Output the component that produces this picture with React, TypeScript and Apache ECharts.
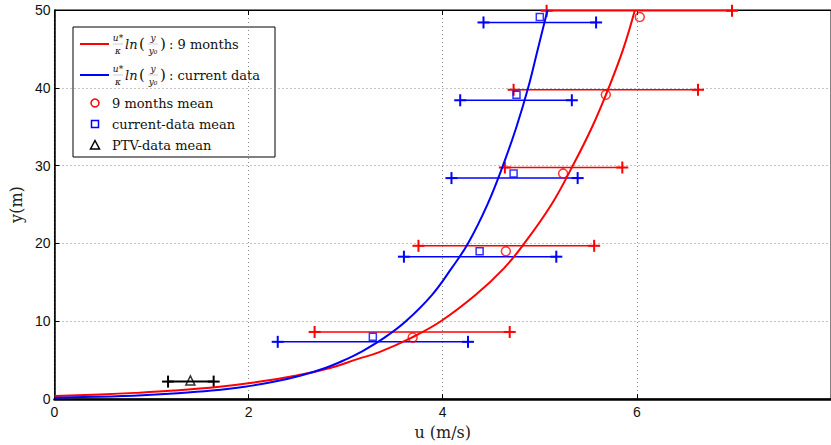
import React, { useEffect, useRef } from "react";
import * as echarts from "echarts";

// Fitted log-law curves: u (m/s) against y (m)
const redCurveU = [0, 0.47, 0.83, 1.23, 1.7, 2.12, 2.48, 2.84, 3.12, 3.34, 3.68, 3.98, 4.34, 4.63, 4.84, 5.12, 5.34, 5.54, 5.71, 5.86, 5.98];
const redCurveY = [0.41, 0.6, 0.8, 1.1, 1.6, 2.25, 3, 4, 5.14, 6, 7.9, 10, 13.4, 16.8, 20, 25, 30, 35, 40, 45, 50];
const blueCurveU = [0, 0.44, 0.91, 1.27, 1.62, 1.96, 2.27, 2.53, 2.79, 3.01, 3.15, 3.4, 3.62, 3.89, 4.09, 4.26, 4.46, 4.62, 4.76, 4.88, 4.98, 5.08];
const blueCurveY = [0.18, 0.3, 0.5, 0.75, 1.1, 1.6, 2.25, 3, 4, 5.14, 6, 7.9, 10, 13.4, 16.8, 20, 25, 30, 35, 40, 45, 50];

// 9 months means and spread
const redMeanU = [3.69, 4.65, 5.24, 5.68, 6.03];
const redMeanY = [7.9, 19.0, 29.0, 39.1, 49.1];
const redBarY = [8.63, 19.7, 29.76, 39.75, 49.9];
const redBarLow = [2.68, 3.75, 4.64, 4.73, 5.07];
const redBarHigh = [4.69, 5.56, 5.85, 6.63, 6.98];

// current-data means and spread
const blueMeanU = [3.28, 4.38, 4.73, 4.76, 5.0];
const blueMeanY = [8.0, 19.0, 29.0, 39.1, 49.1];
const blueBarY = [7.36, 18.3, 28.4, 38.4, 48.4];
const blueBarLow = [2.3, 3.6, 4.09, 4.18, 4.42];
const blueBarHigh = [4.26, 5.17, 5.39, 5.33, 5.58];

// PTV-data mean and spread
const ptvMeanU = [1.4];
const ptvMeanY = [2.4];
const ptvBarY = [2.25];
const ptvBarLow = [1.17];
const ptvBarHigh = [1.64];

const xTicks = [0, 2, 4, 6, 8];
const yTicks = [0, 10, 20, 30, 40, 50];

const RED = "#ff0000";
const BLUE = "#0000ff";
const BLACK = "#000000";
const SERIF = "'DejaVu Serif', 'Liberation Serif', serif";
const SANS = "'Liberation Sans', Arial, sans-serif";

const zip = (a: number[], b: number[]) => a.map((v, i) => [v, b[i]]);

function errorBars(name: string, lo: number[], hi: number[], ys: number[], color: string, lw: number) {
  return {
    type: "custom",
    name,
    clip: false,
    z: 2,
    data: lo.map((l, i) => [l, hi[i], ys[i]]),
    encode: { x: [0, 1], y: 2 },
    renderItem: (params: any, api: any) => {
      const a = api.coord([api.value(0), api.value(2)]);
      const b = api.coord([api.value(1), api.value(2)]);
      const s = 6;
      const st = { stroke: color, lineWidth: 2 };
      return {
        type: "group",
        children: [
          { type: "line", shape: { x1: a[0], y1: a[1], x2: b[0], y2: b[1] }, style: { stroke: color, lineWidth: lw } },
          { type: "line", shape: { x1: a[0] - s, y1: a[1], x2: a[0] + s, y2: a[1] }, style: st },
          { type: "line", shape: { x1: a[0], y1: a[1] - s, x2: a[0], y2: a[1] + s }, style: st },
          { type: "line", shape: { x1: b[0] - s, y1: b[1], x2: b[0] + s, y2: b[1] }, style: st },
          { type: "line", shape: { x1: b[0], y1: b[1] - s, x2: b[0], y2: b[1] + s }, style: st },
        ],
      };
    },
  };
}

function txt(x: number, y: number, text: string, size: number, italic = false, align = "left") {
  return {
    type: "text",
    x,
    y,
    style: {
      text,
      fontFamily: SERIF,
      fontSize: size,
      fontStyle: italic ? "italic" : "normal",
      fill: "#111",
      textAlign: align,
      textVerticalAlign: "middle",
    },
  };
}

function formulaRow(y: number, color: string, label: string) {
  return [
    { type: "line", shape: { x1: 80, y1: y, x2: 109, y2: y }, style: { stroke: color, lineWidth: 2 } },
    txt(118, y - 6, "u*", 9, true, "center"),
    { type: "line", shape: { x1: 113, y1: y, x2: 123, y2: y }, style: { stroke: "#999", lineWidth: 0.5 } },
    txt(118, y + 7, "κ", 9, true, "center"),
    txt(125, y, "ln", 13, true),
    txt(139, y, "(", 15),
    txt(153, y - 6, "y", 9, true, "center"),
    { type: "line", shape: { x1: 148, y1: y, x2: 158, y2: y }, style: { stroke: "#999", lineWidth: 0.5 } },
    txt(153, y + 7, "y₀", 9, true, "center"),
    txt(160, y, ")", 15),
    txt(169, y, label, 13),
  ];
}

export default function App() {
  const ref = useRef<HTMLDivElement>(null);
  useEffect(() => {
    if (!ref.current) return;
    const chart = echarts.init(ref.current, undefined, { renderer: "svg" });
    const axisCommon = {
      type: "value",
      axisTick: { show: true, inside: true, length: 5, lineStyle: { color: BLACK } },
    };
    chart.setOption({
      animation: false,
      backgroundColor: "#ffffff",
      grid: { left: 50, right: -1, top: 10, bottom: 43, show: true, borderColor: BLACK, borderWidth: 1 },
      xAxis: [
        {
          ...axisCommon,
          min: xTicks[0],
          max: xTicks[xTicks.length - 1],
          interval: 2,
          name: "u (m/s)",
          nameLocation: "middle",
          nameGap: 23,
          nameTextStyle: { fontFamily: SERIF, fontSize: 16, color: "#222" },
          axisLine: { show: true, lineStyle: { color: BLACK, width: 2.5 } },
          axisLabel: {
            fontFamily: SANS,
            fontSize: 14,
            color: "#111",
            margin: 6,
            showMaxLabel: false,
          },
          splitLine: { show: true, lineStyle: { color: "#888", type: [1, 3], width: 1 } },
        },
        {
          ...axisCommon,
          position: "top",
          min: xTicks[0],
          max: xTicks[xTicks.length - 1],
          interval: 2,
          axisLine: { show: true, lineStyle: { color: BLACK, width: 1 } },
          axisLabel: { show: false },
          splitLine: { show: false },
        },
      ],
      yAxis: [
        {
          ...axisCommon,
          min: yTicks[0],
          max: yTicks[yTicks.length - 1],
          interval: 10,
          name: "y(m)",
          nameLocation: "middle",
          nameGap: 24,
          nameRotate: 90,
          nameTextStyle: { fontFamily: SERIF, fontSize: 16, color: "#222" },
          axisLine: { show: true, lineStyle: { color: BLACK, width: 1.5 } },
          axisLabel: { fontFamily: SANS, fontSize: 14, color: "#111", margin: 4 },
          splitLine: { show: true, lineStyle: { color: "#888", type: [1, 3], width: 1 } },
        },
      ],
      series: [
        errorBars("9 months spread", redBarLow, redBarHigh, redBarY, RED, 1.5),
        errorBars("current-data spread", blueBarLow, blueBarHigh, blueBarY, BLUE, 1.5),
        errorBars("PTV-data spread", ptvBarLow, ptvBarHigh, ptvBarY, BLACK, 2),
        {
          type: "line",
          name: "9 months log law",
          data: zip(redCurveU, redCurveY),
          smooth: 0.4,
          showSymbol: false,
          lineStyle: { color: RED, width: 2 },
          z: 3,
        },
        {
          type: "line",
          name: "current data log law",
          data: zip(blueCurveU, blueCurveY),
          smooth: 0.4,
          showSymbol: false,
          lineStyle: { color: BLUE, width: 2 },
          z: 3,
        },
        {
          type: "scatter",
          name: "9 months mean",
          data: zip(redMeanU, redMeanY),
          symbol: "circle",
          symbolSize: 9,
          clip: false,
          itemStyle: { color: "transparent", borderColor: RED, borderWidth: 1.5 },
          z: 4,
        },
        {
          type: "scatter",
          name: "current-data mean",
          data: zip(blueMeanU, blueMeanY),
          symbol: "rect",
          symbolSize: 7,
          clip: false,
          itemStyle: { color: "transparent", borderColor: BLUE, borderWidth: 1.5 },
          z: 4,
        },
        {
          type: "scatter",
          name: "PTV-data mean",
          data: zip(ptvMeanU, ptvMeanY),
          symbol: "triangle",
          symbolSize: 9,
          clip: false,
          itemStyle: { color: "transparent", borderColor: BLACK, borderWidth: 1.5 },
          z: 4,
        },
      ],
      graphic: [
        {
          type: "group",
          z: 100,
          children: [
            { type: "rect", shape: { x: 73, y: 27, width: 202, height: 130 }, style: { fill: "#fff", stroke: BLACK, lineWidth: 1 } },
            ...formulaRow(44, RED, ": 9 months"),
            ...formulaRow(75, BLUE, ": current data"),
            { type: "circle", shape: { cx: 95, cy: 103, r: 4 }, style: { fill: "none", stroke: RED, lineWidth: 1.5 } },
            txt(112, 103, "9 months mean", 13),
            { type: "rect", shape: { x: 91.5, y: 120.5, width: 7, height: 7 }, style: { fill: "none", stroke: BLUE, lineWidth: 1.5 } },
            txt(112, 124, "current-data mean", 13),
            { type: "polygon", shape: { points: [[95, 140.5], [99.5, 149], [90.5, 149]] }, style: { fill: "none", stroke: BLACK, lineWidth: 1.5 } },
            txt(112, 145, "PTV-data mean", 13),
          ],
        },
      ],
    });
    return () => chart.dispose();
  }, []);
  return <div ref={ref} style={{ width: 831, height: 445, position: "absolute", left: 0, top: 0 }} />;
}
